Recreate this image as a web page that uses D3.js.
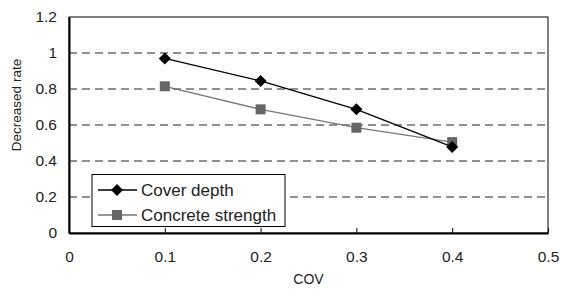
<!DOCTYPE html>
<html>
<head>
<meta charset="utf-8">
<script src="https://cdn.jsdelivr.net/npm/d3@7"></script>
<style>
  body { margin: 0; background: #fff; }
  text { font-family: "Liberation Sans", Arial, sans-serif; fill: #222; }
</style>
</head>
<body>
<div id="chart"></div>
<script>
// datos del gráfico
var cov = [0.1, 0.2, 0.3, 0.4];
var coverDepth = [0.97, 0.845, 0.687, 0.478];
var concreteStrength = [0.815, 0.687, 0.585, 0.505];
var xTicks = [0, 0.1, 0.2, 0.3, 0.4, 0.5];
var yTicks = [0, 0.2, 0.4, 0.6, 0.8, 1, 1.2];
var seriesNames = ["Cover depth", "Concrete strength"];

var width = 563, height = 297;
var margin = { top: 17, right: 15, bottom: 64, left: 69 };

var svg = d3.select("#chart")
    .append("svg")
    .attr("width", width)
    .attr("height", height);

var x = d3.scaleLinear().domain([0, 0.5]).range([margin.left, width - margin.right]);
var y = d3.scaleLinear().domain([0, 1.2]).range([height - margin.bottom, margin.top]);

// líneas de cuadrícula discontinuas
svg.selectAll(".grid")
    .data(yTicks.filter(d => d > 0 && d < 1.2))
    .enter()
    .append("line")
    .attr("x1", x(0)).attr("x2", x(0.5))
    .attr("y1", d => y(d)).attr("y2", d => y(d))
    .attr("stroke", "#222")
    .attr("stroke-width", 1)
    .attr("stroke-dasharray", "8,5");

// marco superior y derecho
svg.append("rect")
    .attr("x", x(0)).attr("y", y(1.2))
    .attr("width", x(0.5) - x(0)).attr("height", y(0) - y(1.2))
    .attr("fill", "none").attr("stroke", "#000").attr("stroke-width", 1);

// eje x
var xAxis = svg.append("g")
    .attr("transform", "translate(0," + y(0) + ")")
    .call(d3.axisBottom(x).tickValues(xTicks).tickSizeInner(-5).tickSizeOuter(0).tickPadding(18).tickFormat(d3.format("")));
xAxis.select(".domain").attr("stroke-width", 2);
xAxis.selectAll("text").style("font-size", "15.5px").attr("fill", "#222");

// eje y
var yAxis = svg.append("g")
    .attr("transform", "translate(" + x(0) + ",0)")
    .call(d3.axisLeft(y).tickValues(yTicks).tickSize(0).tickPadding(12).tickFormat(d3.format("")));
yAxis.select(".domain").attr("stroke-width", 2);
yAxis.selectAll("text").style("font-size", "15.5px").attr("fill", "#222");

// títulos de los ejes
svg.append("text")
    .attr("x", x(0.25)).attr("y", 284)
    .attr("text-anchor", "middle")
    .style("font-size", "14px")
    .text("COV");
svg.append("text")
    .attr("transform", "translate(21,105) rotate(-90)")
    .attr("text-anchor", "middle")
    .style("font-size", "13.5px")
    .text("Decreased rate");

var line = d3.line().x(d => x(d[0])).y(d => y(d[1]));
// rombo como cuadrado girado
var diamond = "M0,-6L6,0L0,6L-6,0Z";

// serie: Concrete strength
var cs = cov.map((c, i) => [c, concreteStrength[i]]);
svg.append("path").datum(cs).attr("d", line)
    .attr("fill", "none").attr("stroke", "#777").attr("stroke-width", 1.3);
svg.selectAll(".sq").data(cs).enter().append("rect")
    .attr("x", d => x(d[0]) - 5).attr("y", d => y(d[1]) - 5)
    .attr("width", 10).attr("height", 10)
    .attr("fill", "#666");

// serie: Cover depth
var cd = cov.map((c, i) => [c, coverDepth[i]]);
svg.append("path").datum(cd).attr("d", line)
    .attr("fill", "none").attr("stroke", "#000").attr("stroke-width", 1.3);
svg.selectAll(".dm").data(cd).enter().append("path")
    .attr("d", diamond)
    .attr("transform", d => "translate(" + x(d[0]) + "," + y(d[1]) + ")")
    .attr("fill", "#000");

// leyenda
var leg = svg.append("g");
leg.append("rect")
    .attr("x", 92).attr("y", 174.5).attr("width", 193).attr("height", 52)
    .attr("fill", "#fff").attr("stroke", "#000").attr("stroke-width", 1);
var items = leg.selectAll(".legend")
    .data(seriesNames)
    .enter()
    .append("g")
    .attr("transform", function (d, i) { return "translate(0," + (190 + i * 25) + ")"; });
items.append("line")
    .attr("x1", 98).attr("x2", 137)
    .attr("stroke", (d, i) => i == 0 ? "#000" : "#777")
    .attr("stroke-width", 1.3);
items.each(function (d, i) {
    var g = d3.select(this);
    if (i == 0) {
        g.append("path").attr("d", diamond).attr("transform", "translate(117,0)").attr("fill", "#000");
    } else {
        g.append("rect").attr("x", 112).attr("y", -5).attr("width", 10).attr("height", 10).attr("fill", "#666");
    }
});
items.append("text")
    .attr("x", 141).attr("y", 6)
    .style("font-size", "17px")
    .text(d => d);
</script>
</body>
</html>
